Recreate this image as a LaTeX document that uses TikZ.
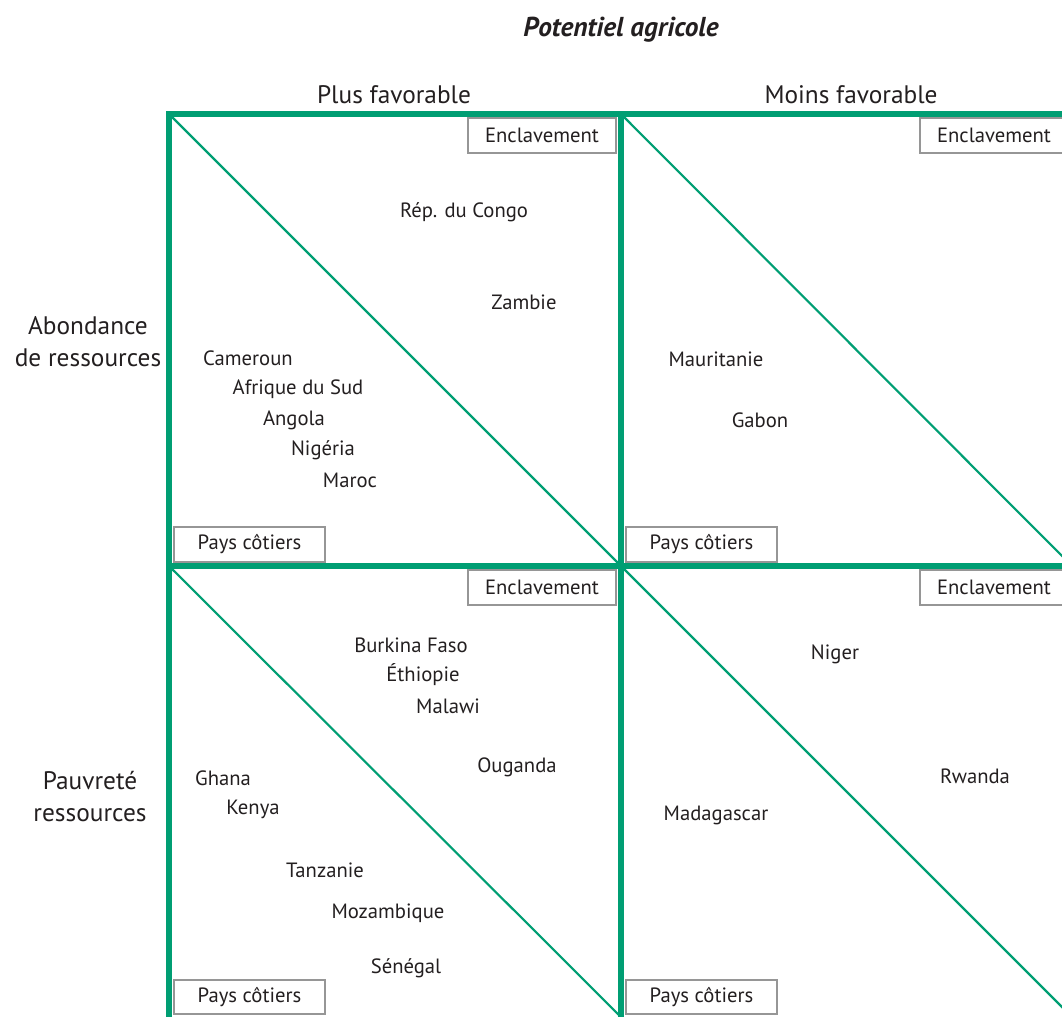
\documentclass[tikz,border=0pt]{standalone}
\usepackage{fontspec}
\setmainfont{PT Sans}
\usetikzlibrary{positioning}
\definecolor{vert}{RGB}{0,158,115}
\definecolor{gris}{RGB}{150,150,150}
\definecolor{encre}{RGB}{35,31,32}

\begin{document}
\begin{tikzpicture}[
      x=0.75pt, y=-0.75pt,
      trait/.style={draw=vert, line width=3.8pt},
      diag/.style={draw=vert, line width=1.6pt},
      etiq/.style={draw=gris, line width=1.6pt, fill=white, inner sep=0pt,
                   minimum height=26pt, text=encre, font=\fontsize{15.5}{18}\selectfont},
      encl/.style={etiq, minimum width=111pt},
      cote/.style={etiq, minimum width=113pt},
      pays/.style={text=encre, font=\fontsize{15.5}{18}\selectfont},
      entete/.style={text=encre, align=center, font=\fontsize{19}{24}\selectfont},
    ]
    \path[use as bounding box, clip] (0,0) rectangle (1062,1016);

    % coins de la grille
    \coordinate (c00) at (169,114);
    \coordinate (c10) at (621,114);
    \coordinate (c20) at (1072,114);
    \coordinate (c01) at (169,566);
    \coordinate (c11) at (621,566);
    \coordinate (c21) at (1072,566);
    \coordinate (c02) at (169,1017);
    \coordinate (c12) at (621,1017);
    \coordinate (c22) at (1072,1017);

    % diagonales
    \draw[diag] (c00) -- (c11);
    \draw[diag] (c10) -- (c21);
    \draw[diag] (c01) -- (c12);
    \draw[diag] (c11) -- (c22);

    % grille
    \draw[trait] (c20) -- (c00) -- (c02);
    \draw[trait] (c10) -- (c12);
    \draw[trait] (c01) -- (c21);

    % titres
    \node[text=encre, font=\fontsize{20.5}{24}\selectfont\bfseries\itshape] (titre) at (621,30) {Potentiel agricole};
    \node[entete] (plus)  at (394,95) {Plus favorable};
    \node[entete] (moins) at (851,95) {Moins favorable};
    \node[entete] (abond) at (88,342) {Abondance\\de ressources};
    \node[entete] (pauv)  at (90,797) {Pauvreté\\ressources};

    % cadres
    \node[encl] (enc1) at (542,135.5) {Enclavement};
    \node[encl] (enc2) at (994,135.5) {Enclavement};
    \node[encl] (enc3) at (542,587.5) {Enclavement};
    \node[encl] (enc4) at (994,587.5) {Enclavement};
    \node[cote] (cot1) at (249.5,544.5) {Pays côtiers};
    \node[cote] (cot2) at (701.5,544.5) {Pays côtiers};
    \node[cote] (cot3) at (249.5,997) {Pays côtiers};
    \node[cote] (cot4) at (701.5,997) {Pays côtiers};

    % abondance, plus favorable
    \node[pays] (congo)  at (464,212) {Rép. du Congo};
    \node[pays] (zambie) at (524,302) {Zambie};
    \node[pays] (camer)  at (248,358) {Cameroun};
    \node[pays] (afsud)  at (298,389) {Afrique du Sud};
    \node[pays] (angola) at (294,420) {Angola};
    \node[pays] (nigeria) at (323,450) {Nigéria};
    \node[pays] (maroc)  at (350,480) {Maroc};

    % abondance, moins favorable
    \node[pays] (maurit) at (716,359) {Mauritanie};
    \node[pays] (gabon)  at (760,420) {Gabon};

    % pauvreté, plus favorable
    \node[pays] (burkina) at (411,645) {Burkina Faso};
    \node[pays] (ethiop)  at (423,675) {Éthiopie};
    \node[pays] (malawi)  at (448,706) {Malawi};
    \node[pays] (ouganda) at (517,767) {Ouganda};
    \node[pays] (ghana)   at (223,778) {Ghana};
    \node[pays] (kenya)   at (253,809) {Kenya};
    \node[pays] (tanzan)  at (325,870) {Tanzanie};
    \node[pays] (mozamb)  at (388,913) {Mozambique};
    \node[pays] (senegal) at (406,968) {Sénégal};

    % pauvreté, moins favorable
    \node[pays] (niger)  at (835,654) {Niger};
    \node[pays] (rwanda) at (975,776) {Rwanda};
    \node[pays] (madag)  at (716,815) {Madagascar};
  \end{tikzpicture}
\end{document}
